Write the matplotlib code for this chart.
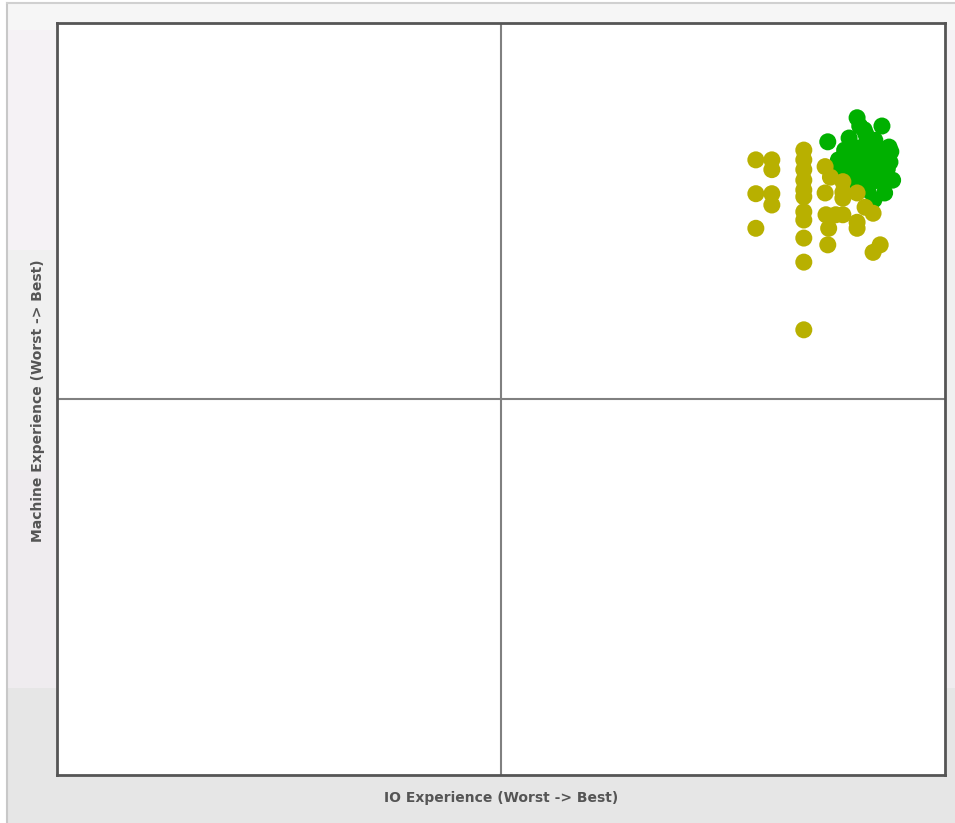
import numpy as np
import matplotlib
matplotlib.use("Agg")
import matplotlib.pyplot as plt
from matplotlib.patches import Rectangle

# Data (IO experience score, Machine experience score), 0..100 scale
green_x = [86.8, 90.1, 90.4, 92.9, 89.2, 91.1, 92.1, 93.7, 88.7, 89.9, 91.0, 92.5, 93.6,
           88.0, 89.1, 90.2, 91.3, 92.7, 93.8, 87.6, 88.7, 89.9, 91.0, 92.1, 93.2, 94.1,
           89.3, 90.7, 91.8, 92.9, 91.3, 93.2, 92.0, 90.2, 92.3, 93.9, 93.5, 90.9]
green_y = [84.2, 87.4, 86.3, 86.3, 84.7, 85.2, 84.4, 83.5, 83.1, 83.4, 83.8, 83.1, 82.4,
           81.8, 82.0, 82.2, 82.3, 81.8, 81.5, 80.7, 80.7, 80.5, 80.7, 80.2, 80.2, 79.1,
           79.4, 79.1, 78.9, 78.9, 77.8, 77.4, 76.5, 78.1, 81.0, 82.9, 80.6, 85.8]

yellow_x = [78.7, 78.7, 78.7, 80.5, 80.5, 80.5, 80.5,
            84.1, 84.1, 84.1, 84.1, 84.1, 84.1, 84.1, 84.1, 84.1, 84.1, 84.1,
            86.5, 87.1, 86.5, 86.6, 86.9, 86.8,
            88.5, 88.5, 88.5, 88.5, 87.7, 90.1, 90.1, 90.1, 91.0, 91.9, 91.9, 92.7]
yellow_y = [81.8, 77.3, 72.7, 81.8, 80.5, 77.3, 75.8,
            83.1, 81.8, 80.5, 79.1, 77.8, 76.9, 74.9, 73.8, 71.4, 68.2, 59.2,
            80.9, 79.5, 77.4, 74.5, 72.7, 70.5,
            78.9, 77.5, 76.7, 74.5, 74.5, 77.4, 73.5, 72.7, 75.5, 74.7, 69.5, 70.5]

x_label = "IO Experience (Worst -> Best)"
y_label = "Machine Experience (Worst -> Best)"

W, H = 955, 823
fig = plt.figure(figsize=(W / 100, H / 100), dpi=100)
fig.patch.set_facecolor("white")

# background panel with banded gradient
bg = fig.add_axes([0, 0, 1, 1], zorder=-10)
bg.set_xlim(0, W)
bg.set_ylim(H, 0)
bg.axis("off")
bands = [(3, 30, "#f6f6f6"), (30, 250, "#f5f2f5"), (250, 470, "#f0f0f0"),
         (470, 688, "#efecef"), (688, 823, "#e6e6e6")]
for y0, y1, c in bands:
    bg.add_patch(Rectangle((7, y0), W - 7, y1 - y0, facecolor=c, edgecolor="none"))
bg.plot([7, 7], [3, H], color="#c8c8c8", lw=1.5)
bg.plot([7, W], [3, 3], color="#d0d0d0", lw=1.5)

ax = fig.add_axes([57 / W, (H - 775) / H, (945 - 57) / W, (775 - 23) / H])
ax.set_facecolor("white")
ax.set_xlim(0, 100)
ax.set_ylim(0, 100)
ax.set_xticks([])
ax.set_yticks([])
for s in ax.spines.values():
    s.set_color("#555555")
    s.set_linewidth(2.0)

ax.axvline(50, color="#808080", lw=1.5, zorder=1)
ax.axhline(50, color="#808080", lw=1.5, zorder=1)

ax.scatter(green_x, green_y, s=150, color="#00b000", edgecolors="none", zorder=3)
ax.scatter(yellow_x, yellow_y, s=150, color="#b8b000", edgecolors="none", zorder=4)

fig.text(501 / W, 1 - 798 / H, x_label, ha="center", va="center",
         fontsize=10, fontweight="bold", color="#555555")
fig.text(38 / W, 1 - 401 / H, y_label, ha="center", va="center", rotation=90,
         fontsize=10, fontweight="bold", color="#555555")

fig.savefig("out.png", dpi=100)
